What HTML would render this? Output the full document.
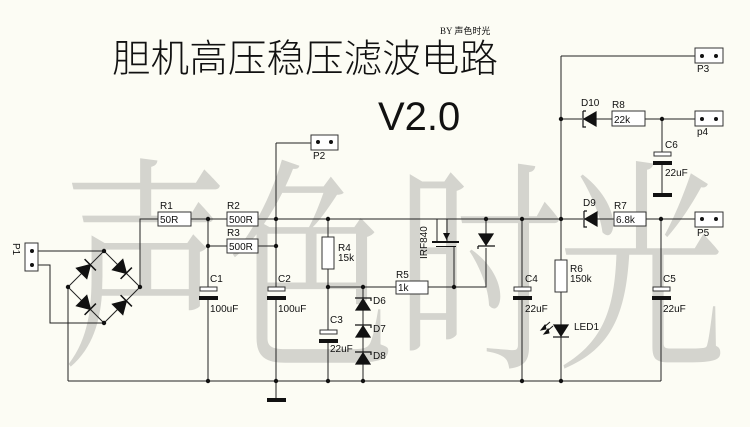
<!DOCTYPE html>
<html><head><meta charset="utf-8"><style>
html,body{margin:0;padding:0;background:#fcfcf4;}
svg{display:block}
text{font-family:"Liberation Sans",sans-serif;font-size:10px;fill:#111}
</style></head><body>
<svg width="750" height="427" viewBox="0 0 750 427" xmlns="http://www.w3.org/2000/svg">
<rect width="750" height="427" fill="#fcfcf4"/>
<!-- watermark -->
<g transform="scale(1,1.35)">
<text x="62" y="258" style="font-family:'Noto Serif CJK SC',serif;font-size:168px;fill:#d4d4ce">声</text>
<text x="228" y="260" style="font-family:'Noto Serif CJK SC',serif;font-size:168px;fill:#d4d4ce">色</text>
<text x="396" y="260" style="font-family:'Noto Serif CJK SC',serif;font-size:168px;fill:#d4d4ce">时</text>
<text x="558" y="260" style="font-family:'Noto Serif CJK SC',serif;font-size:168px;fill:#d4d4ce">光</text>
</g>
<!-- title -->
<text x="112" y="72" style="font-family:'Noto Sans CJK SC',sans-serif;font-size:38.5px;font-weight:300;fill:#111" textLength="386">胆机高压稳压滤波电路</text>
<text x="440" y="34" style="font-family:'Liberation Serif','Noto Sans CJK SC',serif;font-size:9px;fill:#111">BY 声色时光</text>
<text x="378" y="130" style="font-family:'Liberation Sans',sans-serif;font-size:40px;fill:#111">V2.0</text>

<g stroke="#222" stroke-width="1" fill="none">
<path d="M68 381H661"/>
<path d="M32 251H104M32 265H50V323H104"/>
<path d="M104 251L68 287L104 323L140 287Z"/>
<path d="M68 287V381M140 287V219H158M191 219H227M258 219H561"/>
<path d="M208 219V246H227M258 246H276"/>
<path d="M208 219V289M208 297V381"/>
<path d="M276 143H311M276 143V289M276 297V398"/>
<path d="M328 219V237M328 269V330M328 340V381"/>
<path d="M328 287H396M428 287H486V248M486 234V219"/>
<path d="M363 287V381"/>
<path d="M437 219V241M447 219V241M454 246V287"/>
<path d="M522 219V289M522 297V381"/>
<path d="M561 56V260M561 292V381"/>
<path d="M561 56H696M561 119H582M596 119H612M645 119H696M662 119V152"/>
<path d="M662 164V193"/>
<path d="M561 219H583M597 219H614M646 219H696M661 219V289M661 297V381"/>
</g>
<g fill="#111">
<rect x="432" y="241" width="27" height="2"/>
<rect x="436" y="246" width="20" height="1"/>
<polygon points="443,233 450,233 446.5,240"/>
</g>
<g fill="#fff" stroke="#333" stroke-width="1">
<rect x="158" y="212" width="33" height="14"/>
<rect x="227" y="212" width="31" height="14"/>
<rect x="227" y="239" width="31" height="14"/>
<rect x="322" y="237" width="12" height="32"/>
<rect x="396" y="281" width="32" height="13"/>
<rect x="555" y="260" width="12" height="32"/>
<rect x="612" y="111" width="33" height="15"/>
<rect x="614" y="212" width="32" height="14"/>
<rect x="25" y="243" width="13" height="28"/>
<rect x="311" y="135" width="27" height="15"/>
<rect x="695" y="48" width="28" height="15"/>
<rect x="695" y="111" width="28" height="15"/>
<rect x="695" y="212" width="28" height="15"/>
</g>
<g stroke="#333" fill="#fff">
<rect x="200" y="287" width="17" height="4"/>
<rect x="268" y="287" width="17" height="4"/>
<rect x="320" y="330" width="17" height="4"/>
<rect x="514" y="287" width="17" height="4"/>
<rect x="653" y="287" width="17" height="4"/>
<rect x="654" y="152" width="17" height="4"/>
</g>
<g fill="#111">
<rect x="199" y="296" width="19" height="4"/>
<rect x="267" y="296" width="19" height="4"/>
<rect x="319" y="339" width="19" height="4"/>
<rect x="513" y="296" width="19" height="4"/>
<rect x="652" y="296" width="19" height="4"/>
<rect x="653" y="161" width="19" height="4"/>
<rect x="653" y="193" width="19" height="4"/>
<rect x="267" y="398" width="19" height="4"/>
</g>
<g fill="#111" stroke="#111" stroke-width="1.5">
<g transform="translate(86,269) rotate(-45)"><polygon points="-6,-7 -6,7 6,0"/><line x1="6" y1="-8" x2="6" y2="8"/></g>
<g transform="translate(122,269) rotate(45)"><polygon points="-6,-7 -6,7 6,0"/><line x1="6" y1="-8" x2="6" y2="8"/></g>
<g transform="translate(86,305) rotate(45)"><polygon points="-6,-7 -6,7 6,0"/><line x1="6" y1="-8" x2="6" y2="8"/></g>
<g transform="translate(122,305) rotate(-45)"><polygon points="-6,-7 -6,7 6,0"/><line x1="6" y1="-8" x2="6" y2="8"/></g>
</g>
<g fill="#111" stroke="#111" stroke-width="1.2">
<polygon points="356,310 370,310 363,299"/><path d="M355 298H371V301" fill="none"/>
<polygon points="356,337 370,337 363,326"/><path d="M355 325H371V328" fill="none"/>
<polygon points="356,364 370,364 363,353"/><path d="M355 352H371V355" fill="none"/>
<polygon points="479,234 493,234 486,245"/><path d="M478 246H495M478 246V249" fill="none"/>
<polygon points="554,325 568,325 561,336"/><path d="M553 337H569" fill="none"/>
<polygon points="596,112 596,126 584,119"/><path d="M583 111V127H586M583 111H586" fill="none"/>
<polygon points="597,212 597,226 585,219"/><path d="M584 211V227H587M584 211H587" fill="none"/>
</g>
<g stroke="#111" stroke-width="1" fill="#111">
<line x1="543" y1="328" x2="550" y2="322"/><line x1="546" y1="332" x2="553" y2="326"/>
<polygon points="541,330 545,325 546,329"/><polygon points="544,334 548,329 549,333"/>
</g>
<g fill="#111">
<circle cx="32" cy="251" r="2"/><circle cx="32" cy="265" r="2"/>
<circle cx="104" cy="251" r="2.2"/><circle cx="68" cy="287" r="2.2"/><circle cx="140" cy="287" r="2.2"/><circle cx="104" cy="323" r="2.2"/>
<circle cx="208" cy="219" r="2.2"/><circle cx="208" cy="246" r="2.2"/><circle cx="276" cy="219" r="2.2"/><circle cx="276" cy="246" r="2.2"/>
<circle cx="328" cy="219" r="2.2"/><circle cx="328" cy="287" r="2.2"/><circle cx="363" cy="287" r="2.2"/><circle cx="454" cy="287" r="2.2"/>
<circle cx="486" cy="219" r="2.2"/><circle cx="522" cy="219" r="2.2"/><circle cx="561" cy="219" r="2.2"/><circle cx="561" cy="119" r="2.2"/>
<circle cx="662" cy="119" r="2.2"/><circle cx="661" cy="219" r="2.2"/>
<circle cx="208" cy="381" r="2.2"/><circle cx="276" cy="381" r="2.2"/><circle cx="328" cy="381" r="2.2"/><circle cx="363" cy="381" r="2.2"/><circle cx="522" cy="381" r="2.2"/><circle cx="561" cy="381" r="2.2"/>
<circle cx="318" cy="142" r="2"/><circle cx="331" cy="142" r="2"/>
<circle cx="702" cy="56" r="2"/><circle cx="716" cy="56" r="2"/>
<circle cx="702" cy="119" r="2"/><circle cx="716" cy="119" r="2"/>
<circle cx="702" cy="219" r="2"/><circle cx="716" cy="219" r="2"/>
</g>
<text x="160" y="209">R1</text><text x="160" y="223">50R</text>
<text x="227" y="209">R2</text><text x="229" y="223">500R</text>
<text x="227" y="236">R3</text><text x="229" y="250">500R</text>
<text x="338" y="251">R4</text><text x="338" y="261">15k</text>
<text x="396" y="278">R5</text><text x="398" y="291">1k</text>
<text x="570" y="272">R6</text><text x="570" y="282">150k</text>
<text x="614" y="209">R7</text><text x="616" y="223">6.8k</text>
<text x="612" y="108">R8</text><text x="614" y="123">22k</text>
<text x="210" y="282">C1</text><text x="210" y="312">100uF</text>
<text x="278" y="282">C2</text><text x="278" y="312">100uF</text>
<text x="330" y="323">C3</text><text x="330" y="352">22uF</text>
<text x="525" y="282">C4</text><text x="525" y="312">22uF</text>
<text x="663" y="282">C5</text><text x="663" y="312">22uF</text>
<text x="665" y="148">C6</text><text x="665" y="176">22uF</text>
<text x="373" y="304">D6</text><text x="373" y="332">D7</text><text x="373" y="359">D8</text>
<text x="583" y="206">D9</text><text x="581" y="106">D10</text>
<text x="574" y="330">LED1</text>
<text x="313" y="159">P2</text><text x="697" y="72">P3</text><text x="697" y="135">p4</text><text x="697" y="236">P5</text>
<text transform="translate(13,243) rotate(90)">P1</text>
<text transform="translate(427,259) rotate(-90)">IRF840</text>
</svg>
</body></html>
